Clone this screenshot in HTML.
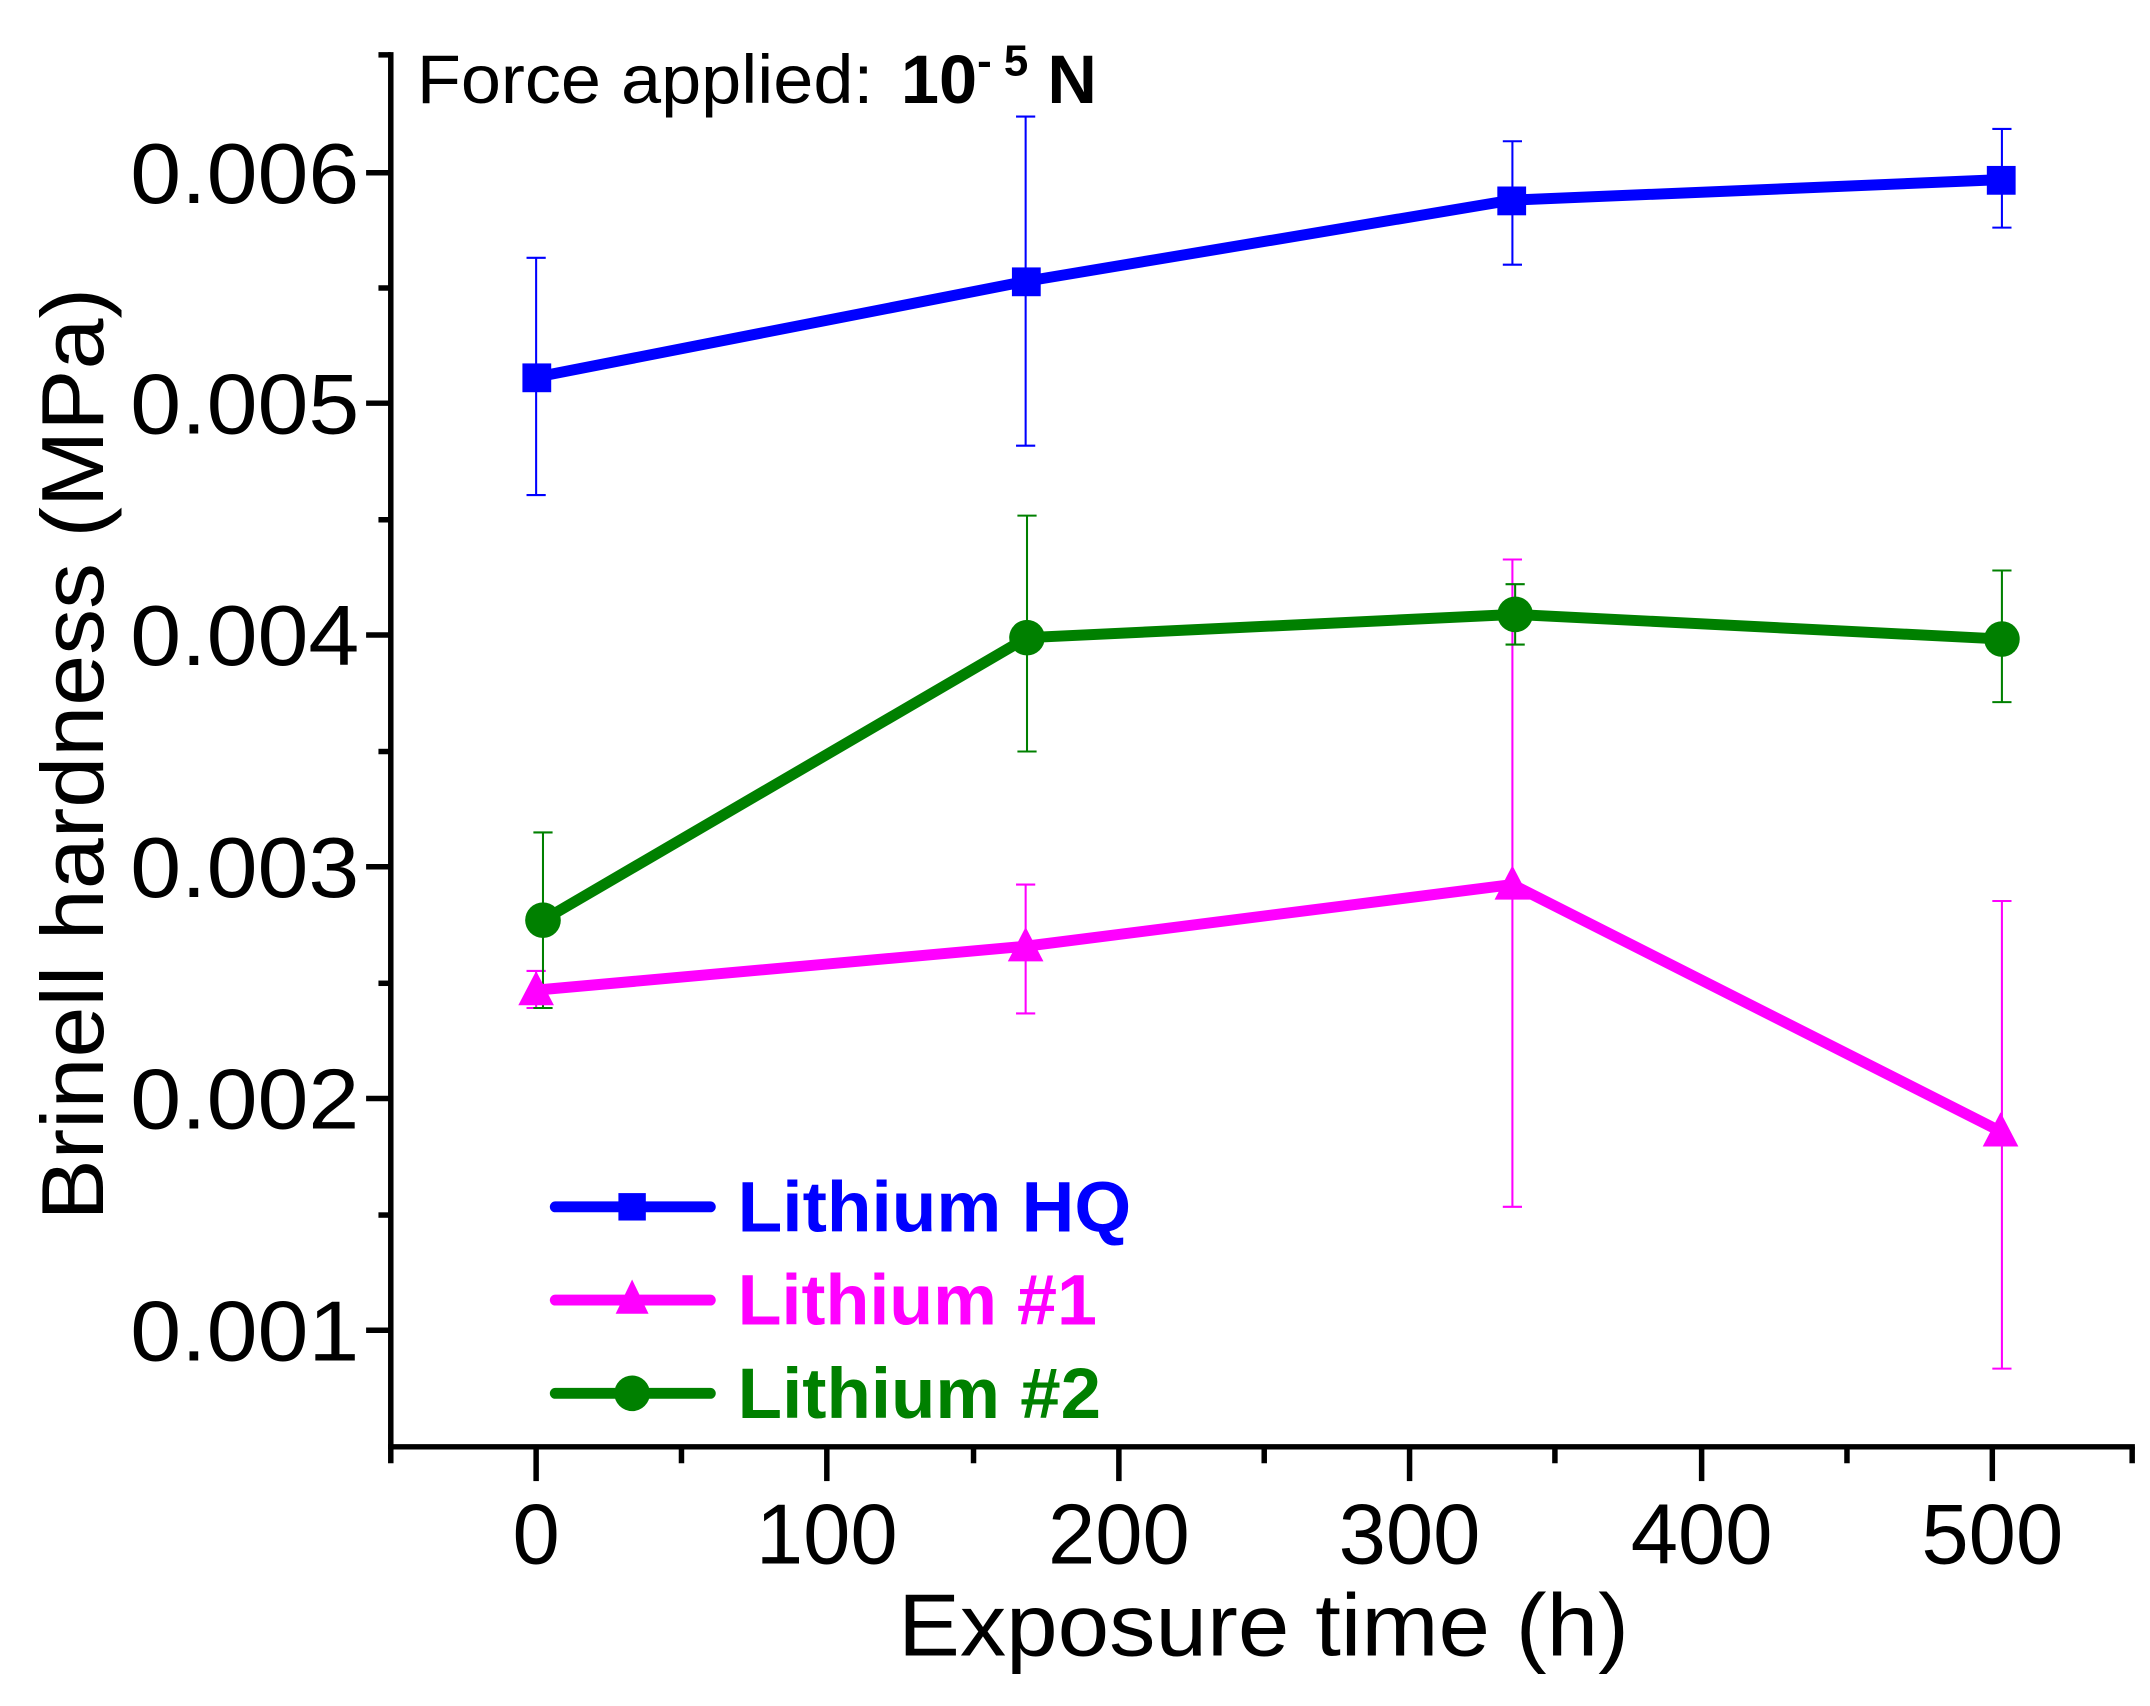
<!DOCTYPE html>
<html><head><meta charset="utf-8"><style>html,body{margin:0;padding:0;background:#fff}svg{display:block}</style></head>
<body>
<svg width="2150" height="1706" viewBox="0 0 1568 1244" preserveAspectRatio="none" xmlns="http://www.w3.org/2000/svg" font-family="Liberation Sans, Arial, sans-serif">
<rect width="1568" height="1244" fill="#fff"/>
<g stroke="#000" stroke-width="4" fill="none">
<line x1="285" y1="38" x2="285" y2="1057"/>
<line x1="283" y1="1055" x2="1557" y2="1055"/>
<line x1="267" y1="126" x2="285" y2="126"/><line x1="267" y1="294" x2="285" y2="294"/><line x1="267" y1="463" x2="285" y2="463"/><line x1="267" y1="632" x2="285" y2="632"/><line x1="267" y1="801" x2="285" y2="801"/><line x1="267" y1="970" x2="285" y2="970"/>
<line x1="276" y1="40" x2="285" y2="40"/><line x1="276" y1="210" x2="285" y2="210"/><line x1="276" y1="379" x2="285" y2="379"/><line x1="276" y1="548" x2="285" y2="548"/><line x1="276" y1="717" x2="285" y2="717"/><line x1="276" y1="886" x2="285" y2="886"/>
<line x1="391" y1="1055" x2="391" y2="1080"/><line x1="603" y1="1055" x2="603" y2="1080"/><line x1="816" y1="1055" x2="816" y2="1080"/><line x1="1028" y1="1055" x2="1028" y2="1080"/><line x1="1241" y1="1055" x2="1241" y2="1080"/><line x1="1453" y1="1055" x2="1453" y2="1080"/>
<line x1="285" y1="1055" x2="285" y2="1067"/><line x1="497" y1="1055" x2="497" y2="1067"/><line x1="710" y1="1055" x2="710" y2="1067"/><line x1="922" y1="1055" x2="922" y2="1067"/><line x1="1134" y1="1055" x2="1134" y2="1067"/><line x1="1347" y1="1055" x2="1347" y2="1067"/><line x1="1555" y1="1055" x2="1555" y2="1067"/>
</g>
<g font-size="62" fill="#000">
<text x="95" y="148" textLength="167" lengthAdjust="spacingAndGlyphs">0.006</text>
<text x="95" y="316" textLength="167" lengthAdjust="spacingAndGlyphs">0.005</text>
<text x="95" y="485" textLength="167" lengthAdjust="spacingAndGlyphs">0.004</text>
<text x="95" y="654" textLength="167" lengthAdjust="spacingAndGlyphs">0.003</text>
<text x="95" y="823" textLength="167" lengthAdjust="spacingAndGlyphs">0.002</text>
<text x="95" y="992" textLength="167" lengthAdjust="spacingAndGlyphs">0.001</text>
</g>
<g font-size="62" text-anchor="middle" fill="#000">
<text x="391" y="1140">0</text><text x="603" y="1140">100</text><text x="816" y="1140">200</text><text x="1028" y="1140">300</text><text x="1241" y="1140">400</text><text x="1453" y="1140">500</text>
</g>
<text x="655" y="1207" font-size="64" textLength="533" lengthAdjust="spacingAndGlyphs">Exposure time (h)</text>
<text transform="translate(75,890) rotate(-90)" font-size="64" textLength="680" lengthAdjust="spacingAndGlyphs">Brinell hardness (MPa)</text>
<text x="304" y="75" font-size="50"><tspan textLength="333" lengthAdjust="spacingAndGlyphs">Force applied:</tspan><tspan font-weight="bold" dx="20">10</tspan><tspan font-weight="bold" font-size="32" dy="-20">- 5</tspan><tspan font-weight="bold" dy="20"> N</tspan></text>

<g stroke-width="1.5" fill="none">
<g stroke="#0000ff">
<path d="M391 188V361M384 188h14M384 361h14"/>
<path d="M748 85V325M741 85h14M741 325h14"/>
<path d="M1103 103V193M1096 103h14M1096 193h14"/>
<path d="M1460 94V166M1453 94h14M1453 166h14"/>
</g>
<g stroke="#ff00ff">
<path d="M391 708V735M384 708h14M384 735h14"/>
<path d="M748 645V739M741 645h14M741 739h14"/>
<path d="M1103 408V880M1096 408h14M1096 880h14"/>
<path d="M1460 657V998M1453 657h14M1453 998h14"/>
</g>
<g stroke="#008000">
<path d="M396 607V735M389 607h14M389 735h14"/>
<path d="M749 376V548M742 376h14M742 548h14"/>
<path d="M1105 426V470M1098 426h14M1098 470h14"/>
<path d="M1460 416V512M1453 416h14M1453 512h14"/>
</g>
</g>
<g stroke-width="8" stroke-linecap="round" fill="none">
<polyline stroke="#0000ff" points="391,275 749,205 1102,146 1459,131"/>
<polyline stroke="#ff00ff" points="391,722 748,690 1103,645 1459,825"/>
<polyline stroke="#008000" points="396,671 749,465 1105,448 1460,466"/>
</g>
<g fill="#0000ff">
<rect x="381" y="265" width="21" height="21"/><rect x="738" y="195" width="21" height="21"/><rect x="1092" y="136" width="21" height="21"/><rect x="1449" y="121" width="21" height="21"/>
</g>
<g fill="#ff00ff">
<polygon points="391,708 378,733 404,733"/><polygon points="748,676 735,701 761,701"/><polygon points="1103,631 1090,656 1116,656"/><polygon points="1459,811 1446,836 1472,836"/>
</g>
<g fill="#008000">
<circle cx="396" cy="671" r="13"/><circle cx="749" cy="465" r="13"/><circle cx="1105" cy="448" r="13"/><circle cx="1460" cy="466" r="13"/>
</g>
<g stroke-width="8" stroke-linecap="round">
<line x1="405" y1="880" x2="518" y2="880" stroke="#0000ff"/>
<line x1="405" y1="948" x2="518" y2="948" stroke="#ff00ff"/>
<line x1="405" y1="1016" x2="518" y2="1016" stroke="#008000"/>
</g>
<rect x="451" y="870" width="20" height="20" fill="#0000ff"/>
<polygon points="461,933 449,958 473,958" fill="#ff00ff"/>
<circle cx="461" cy="1016" r="13" fill="#008000"/>
<g font-size="52" font-weight="bold">
<text x="538" y="898" fill="#0000ff" textLength="287" lengthAdjust="spacingAndGlyphs">Lithium HQ</text>
<text x="538" y="966" fill="#ff00ff" textLength="262" lengthAdjust="spacingAndGlyphs">Lithium #1</text>
<text x="538" y="1034" fill="#008000" textLength="265" lengthAdjust="spacingAndGlyphs">Lithium #2</text>
</g>
</svg>
</body></html>
